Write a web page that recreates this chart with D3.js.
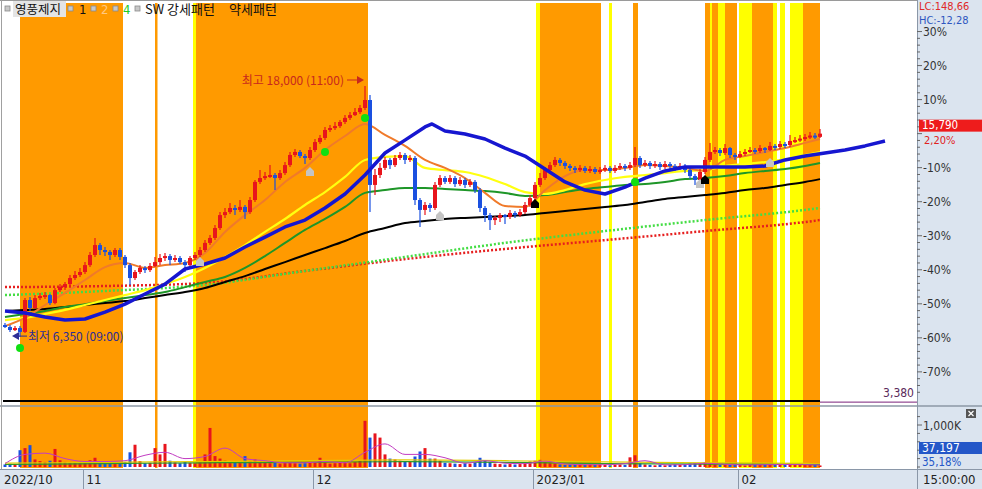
<!DOCTYPE html>
<html><head><meta charset="utf-8">
<script src="https://cdn.jsdelivr.net/npm/d3@7"></script>
<style>
html,body{margin:0;padding:0;background:#fff;overflow:hidden}
svg{display:block}
text{font-family:"Liberation Sans Narrow","DejaVu Sans Condensed","Liberation Sans",Arial,sans-serif;font-size:12px}
.kr{font-family:"Noto Sans CJK KR","Noto Sans",sans-serif}
</style></head><body>
<svg id="c" width="982" height="489"></svg>
<script>
// ---------------- DATA ----------------
const stockName = "영풍제지";
const candleOpen = [
6910,6820,6680,6770,6590,8070,7700,8160,8260,8300,
7930,8530,8670,8810,9090,9230,9370,9690,10160,10620,
10390,10300,10160,10390,10070,9690,9090,9370,9560,9460,
9650,9830,10020,10110,9930,10020,9830,9690,10020,10160,
10390,10720,10950,11410,12010,12150,12340,12250,12390,12150,
12710,13550,13730,13820,13870,13730,13960,14330,14800,14940,
14750,14660,15030,15400,15590,15960,16050,16140,16330,16520,
16650,16790,16980,17350,13410,13870,14200,14570,14330,14660,
14800,14570,14660,12710,12250,12480,12340,13410,13730,13550,
13730,13450,13640,13410,13550,13170,12340,12010,11780,11880,
12010,11920,12110,12010,12150,12480,12800,13410,13730,14100,
14330,14570,14430,14290,14200,14100,14200,14060,14150,14010,
14100,14200,14060,14200,14290,14200,14330,14660,14330,14430,
14290,14380,14240,14380,14290,14200,14290,14100,13820,13640,
14010,14570,14940,15030,14890,15120,14800,14710,14840,14940,
15030,14980,15120,15030,15220,15170,15310,15260,15450,15490,
15560,15630,15700,15640];
const candleHigh = [
7000,6910,6860,6860,8160,8210,8300,8400,8440,8350,
8630,8810,8910,9230,9420,9560,9830,10300,10950,10720,
10530,10390,10480,10480,10160,9790,9460,9690,9650,9790,
10070,10200,10250,10200,10160,10110,9930,10110,10300,10530,
10850,11090,11550,12150,12340,12570,12480,12710,12480,12850,
13640,14100,14010,14330,13960,14100,14470,14940,15080,15030,
14840,15170,15540,15730,16100,16190,16330,16420,16650,16790,
16980,17120,18000,17580,14150,14430,14710,14660,14800,14940,
14890,14800,14750,12800,12620,12570,13550,13870,13820,13870,
13820,13780,13730,13680,13640,13270,12430,12110,11970,12110,
12060,12250,12200,12290,12620,12940,13550,13960,14240,14470,
14710,14660,14520,14380,14290,14330,14290,14290,14240,14240,
14330,14290,14330,14430,14380,14470,15170,14750,14570,14520,
14520,14470,14520,14470,14380,14430,14380,14200,13920,14150,
14710,15360,15170,15120,15310,15170,14890,14980,15080,15170,
15120,15260,15170,15400,15310,15450,15400,15730,15630,15730,
15770,15870,15820,16000];
const candleLow = [
6770,6590,6630,6350,6540,7560,7650,8070,8120,7840,
7880,8440,8530,8720,9000,9140,9280,9600,10070,10160,
10110,9930,10070,9930,9560,8770,9000,9280,9320,9370,
9600,9690,9880,9690,9830,9740,9370,9650,9930,10070,
10300,10620,10850,11320,11880,12060,12010,12150,11830,12060,
12620,13450,13640,13730,13170,13640,13870,14240,14710,14660,
14380,14570,14940,15310,15490,15870,15960,16050,16240,16420,
16610,16700,16890,12150,12940,13730,14100,14150,14240,14570,
14380,14470,12480,11460,12010,12150,12250,13310,13450,13450,
13310,13360,13270,13310,13040,12150,11690,11320,11550,11690,
11600,11830,11880,11920,12060,12390,12710,13310,13640,14010,
14240,14290,14150,14060,13960,14010,13960,13960,13920,13920,
14010,13960,13960,14100,14060,14100,14240,14200,14240,14150,
14200,14100,14150,14150,14060,14100,13960,13680,13410,13550,
13920,14470,14840,14750,14800,14660,14570,14660,14750,14890,
14840,14890,14890,14980,15030,15080,15120,15170,15360,15400,
15450,15540,15540,15590];
const candleClose = [
6820,6680,6770,6590,8070,7700,8160,8260,8300,7930,
8530,8670,8810,9090,9230,9370,9690,10160,10620,10390,
10300,10160,10390,10070,9690,9090,9370,9560,9460,9650,
9830,10020,10110,9930,10020,9830,9690,10020,10160,10390,
10720,10950,11410,12010,12150,12340,12250,12390,12150,12710,
13550,13730,13820,13870,13730,13960,14330,14800,14940,14750,
14660,15030,15400,15590,15960,16050,16140,16330,16520,16650,
16790,16980,17350,13410,13870,14200,14570,14330,14660,14800,
14570,14660,12710,12250,12480,12340,13410,13730,13550,13730,
13450,13640,13410,13550,13170,12340,12010,11780,11880,12010,
11920,12110,12010,12150,12480,12800,13410,13730,14100,14330,
14570,14430,14290,14200,14100,14200,14060,14150,14010,14100,
14200,14060,14200,14290,14200,14330,14660,14330,14430,14290,
14380,14240,14380,14290,14200,14290,14100,13820,13640,14010,
14570,14940,15030,14890,15120,14800,14710,14840,14940,15030,
14980,15120,15030,15220,15170,15310,15260,15450,15490,15560,
15630,15700,15640,15790];
const volumeK = [
60,80,70,400,450,520,180,140,120,150,
430,160,120,100,110,90,130,160,220,110,
90,80,70,80,120,350,530,140,90,100,
450,300,550,150,110,90,120,100,90,110,
300,930,260,200,150,120,100,110,260,140,
180,120,100,90,120,80,100,110,90,80,
90,100,110,220,100,80,90,100,110,90,
120,150,1100,700,800,700,300,200,180,150,
130,120,250,370,450,200,200,150,100,90,
80,70,90,80,110,220,150,120,80,70,
60,70,60,70,90,130,150,170,120,90,
80,60,50,60,50,60,50,60,50,60,
50,40,50,60,50,230,280,90,60,50,
40,50,40,50,60,50,60,80,90,70,
110,90,60,50,60,50,60,50,40,50,
60,50,60,70,50,60,50,70,60,50,
60,50,70,37];

// moving averages (at these bar indexes)
const maIdx = [0,4,8,12,16,20,24,28,32,36,40,44,48,52,56,60,64,68,72,76,80,84,88,92,96,100,104,108,112,116,120,124,128,132,136,140,144,148,152,156,160,163];
const maOrange = [6860,7240,7840,8400,9000,9600,9790,9560,9690,9790,10250,11230,12010,12710,13550,14200,15030,15680,16240,15730,15220,14570,14200,13730,13040,12430,12390,13170,13820,14100,14100,14200,14330,14290,14200,14060,14570,14750,14940,15120,15360,15540];
const maYellow = [7140,7240,7420,7610,7840,8070,8300,8530,8810,9140,9560,10070,10620,11230,11830,12480,13080,13780,14570,14710,14750,14200,14100,14010,13780,13450,13080,12990,13170,13450,13640,13780,13870,13960,14060,14100,14290,14380,14470,14610,14800,14940];
const maGreen = [7280,7420,7560,7750,7880,8020,8160,8300,8440,8670,8910,9140,9560,10110,10720,11320,11830,12390,13040,13170,13270,13270,13220,13170,13130,13040,12900,12940,13080,13220,13310,13410,13450,13550,13680,13730,13820,13960,14060,14150,14290,14430];
const maBlack = [7560,7610,7650,7750,7840,7930,8020,8160,8300,8440,8630,8910,9180,9510,9830,10160,10480,10810,11180,11410,11640,11740,11830,11880,11920,11970,12010,12110,12200,12290,12390,12480,12620,12760,12850,12940,13040,13170,13270,13410,13550,13680];
const blueIdx = [0,4,8,12,16,20,24,28,32,36,40,44,48,52,56,60,64,68,72,76,80,84,85.4,88,92,96,100,104,108,112,116,120,124,128,132,136,140,144,148,152,156,160,164,168,172,176];
const maBlue = [7560,7470,7280,7140,7190,7510,7880,8350,8810,9510,9740,10020,10530,10990,11460,11780,12340,12990,13870,14890,15490,16100,16240,15910,15770,15540,15120,14750,14150,13550,13170,12990,13310,13730,14060,14240,14240,14240,14240,14290,14570,14750,14890,15030,15220,15450];
const dotIdx = [0,20,40,60,80,100,120,140,160,163];
const dotRed = [8670,8720,8860,9420,9970,10440,10850,11270,11690,11780];
const dotGreen = [8300,8490,8770,9420,10070,10720,11270,11780,12250,12340];
const volMA1 = [80,300,330,200,130,130,150,280,350,200,250,450,200,150,100,100,130,100,350,550,300,300,220,90,150,90,80,140,70,55,55,80,150,50,55,90,65,50,55,60,55,50];
const volMA2 = [60,80,100,110,130,110,80,70,60,55];
const volMA3 = [90,110,130,150,170,150,120,100,85,75];

// pattern background bands (bar index ranges) and type
const bandStart = [3.0,30.0,37.6,38.2,106.2,107.0,120.8,125.6,140,141,141.4,142.6,144,146.8,149.4,153.6,155,157,159.6];
const bandEnd   = [23.6,30.5,38.2,72.6,107.0,119.2,121.4,126.6,141,141.4,142.6,144,146.4,149.4,153.6,154.4,156,159.6,163];
const bandType  = ["o","o","y","o","y","o","y","o","o","y","o","y","o","y","o","y","y","y","o"];

// signals
const sigGreenIdx = [3,64,72,126], sigGreenPrice = [5840,14940,16520,13550];
const sigGrayIdx = [39,61,87,139,153], sigGrayPrice = [9830,14010,11970,13450,14430];
const sigBlackIdx = [106,140], sigBlackPrice = [12520,13640];

// axis / labels
const monthLabels = ["2022/10","11","12","2023/01","02"];
const monthStartIdx = [0,16,62,106,147];
const levelPrice = 3380;
const lastPrice = 15790;
const basePrice = 15790;
const pctTicks = [30,20,10,0,-10,-20,-30,-40,-50,-60,-70];
const highIdx = 72, highPrice = 18000, highTime = "11:00";
const lowIdx = 3, lowPrice = 6350, lowTime = "09:00";

// ---------------- DRAW ----------------
const svg = d3.select('#c');
const X0 = 3, XR = 917, PT = 3, PB = 405, VB = 467, AXT = 469;
const x = d3.scaleLinear().domain([0,182]).range([5,915]);
const y = d3.scaleLinear().domain([3200,21990]).range([405,0]);
const yv = d3.scaleLinear().domain([0,1000]).range([467,425]);
const step = x(1) - x(0);
const fmt = d3.format(",");

svg.append('rect').attr('width',982).attr('height',489).attr('fill','#fff');
const defs = svg.append('defs');
defs.append('clipPath').attr('id','cp').append('rect').attr('x',X0).attr('y',PT).attr('width',XR-X0).attr('height',PB-PT);
defs.append('clipPath').attr('id','cv').append('rect').attr('x',X0).attr('y',407).attr('width',XR-X0).attr('height',VB-407+1);

// bands
const bandColors = {o:'#ff9a00', y:'#ffff00'};
svg.append('g').selectAll('rect').data(bandStart).join('rect')
  .attr('x', d => x(d)).attr('y', PT)
  .attr('width', (d,i) => x(bandEnd[i]) - x(d)).attr('height', VB + 1 - PT)
  .attr('fill', (d,i) => bandColors[bandType[i]]);

const gp = svg.append('g').attr('clip-path','url(#cp)');
const lastI = candleClose.length - 1;
gp.append('line').attr('x1',X0).attr('x2',x(lastI)).attr('y1',y(levelPrice)).attr('y2',y(levelPrice))
  .attr('stroke','#000').attr('stroke-width',2);

function series(idx, vals){ return idx.map((d,i) => ({i:d, v:vals[i]})); }
const line = d3.line().x(d => x(d.i)).y(d => y(d.v)).curve(d3.curveMonotoneX);
const lineLin = d3.line().x(d => x(d.i)).y(d => y(d.v));
function draw(g, data, color, w, dash, gen){
  g.append('path').datum(data).attr('d', gen || line).attr('fill','none')
   .attr('stroke', color).attr('stroke-width', w).attr('stroke-linejoin','round')
   .attr('stroke-dasharray', dash || null);
}
draw(gp, series(dotIdx, dotRed), '#e61e1e', 2.5, '2 2');
draw(gp, series(dotIdx, dotGreen), '#44dd44', 2.5, '2 2');
draw(gp, series(maIdx, maBlack), '#000', 2);
draw(gp, series(maIdx, maGreen), '#1e9628', 2);
draw(gp, series(maIdx, maYellow), '#ffff10', 2.2);
draw(gp, series(maIdx, maOrange), '#f07a2a', 2);

// candles
const RED = '#e8141c', BLUE = '#1a50e0';
const cd = candleClose.map((c,i) => ({i, o:candleOpen[i], h:candleHigh[i], l:candleLow[i], c, up: c >= candleOpen[i]}));
gp.selectAll('.wick').data(cd).join('line').attr('class','wick')
  .attr('x1', d => x(d.i)).attr('x2', d => x(d.i))
  .attr('y1', d => y(d.h)).attr('y2', d => y(d.l))
  .attr('stroke', d => d.up ? RED : BLUE).attr('stroke-width', 1.2);
gp.selectAll('.body').data(cd).join('rect').attr('class','body')
  .attr('x', d => x(d.i) - 2).attr('width', 4)
  .attr('y', d => y(Math.max(d.o, d.c)))
  .attr('height', d => Math.max(2, Math.abs(y(d.o) - y(d.c))))
  .attr('fill', d => d.up ? RED : BLUE);

draw(gp, series(blueIdx, maBlue), '#1616d0', 3.5, null, lineLin);

// signals
const house = "M0,-5L4,-1L4,4L-4,4L-4,-1Z";
gp.selectAll('.sg').data(sigGreenIdx).join('circle').attr('class','sg')
  .attr('cx', d => x(d)).attr('cy', (d,i) => y(sigGreenPrice[i])).attr('r', 4).attr('fill','#11e011');
gp.selectAll('.sgr').data(sigGrayIdx).join('path').attr('class','sgr')
  .attr('d', house).attr('transform', (d,i) => `translate(${x(d)},${y(sigGrayPrice[i])})`).attr('fill','#c4c4c4');
gp.selectAll('.sbk').data(sigBlackIdx).join('path').attr('class','sbk')
  .attr('d', house).attr('transform', (d,i) => `translate(${x(d)},${y(sigBlackPrice[i])})`).attr('fill','#000');

// high / low annotations
const hx = x(highIdx), hy = y(highPrice) - 6;
svg.append('line').attr('x1', hx - 18).attr('x2', hx - 6).attr('y1', hy).attr('y2', hy).attr('stroke','#c8281e').attr('stroke-width',1);
svg.append('path').attr('d', `M${hx-1},${hy}L${hx-8},${hy-4}L${hx-8},${hy+4}Z`).attr('fill','#c8281e');
svg.append('text').attr('class','kr').attr('x', hx - 21).attr('y', hy + 4.5).attr('text-anchor','end')
  .attr('fill','#c8281e').style('font-size','12px').text(`최고 ${fmt(highPrice)} (${highTime})`);
const lx = x(lowIdx), ly = y(lowPrice) - 1;
svg.append('line').attr('x1', lx - 2).attr('x2', lx + 7).attr('y1', ly).attr('y2', ly).attr('stroke','#2c2c96').attr('stroke-width',1);
svg.append('path').attr('d', `M${lx-8},${ly}L${lx-1},${ly-4}L${lx-1},${ly+4}Z`).attr('fill','#2c2c96');
svg.append('text').attr('class','kr').attr('x', lx + 8).attr('y', ly + 4.5)
  .attr('fill','#2c2c96').style('font-size','12px').text(`최저 ${fmt(lowPrice)} (${lowTime})`);

// volume pane
const gv = svg.append('g').attr('clip-path','url(#cv)');
gv.selectAll('.vb').data(cd).join('rect').attr('class','vb')
  .attr('x', d => x(d.i) - 1.5).attr('width', 3)
  .attr('y', d => yv(volumeK[d.i])).attr('height', d => VB - yv(volumeK[d.i]))
  .attr('fill', d => d.up ? RED : BLUE);
const vline = d3.line().x(d => x(d.i)).y(d => yv(d.v)).curve(d3.curveMonotoneX);
function vdraw(data, color, w){ gv.append('path').datum(data).attr('d', vline).attr('fill','none').attr('stroke',color).attr('stroke-width',w); }
vdraw(series(dotIdx, volMA3), '#e0cc00', 1.2);
vdraw(series(dotIdx, volMA2), '#2a9a2a', 1.2);
vdraw(series(maIdx, volMA1), '#c23cc2', 1);

// purple continuation of level line and its label
svg.append('line').attr('x1', x(lastI)).attr('x2', XR).attr('y1', y(levelPrice)+1).attr('y2', y(levelPrice)+1).attr('stroke','#7a207a').attr('stroke-width',1);
svg.append('text').attr('x', XR - 3).attr('y', y(levelPrice) - 4).attr('text-anchor','end').attr('fill','#5a2a5a').text(fmt(levelPrice));

// separators & frame
svg.append('line').attr('x1',0).attr('x2',982).attr('y1',406).attr('y2',406).attr('stroke','#8d98a6').attr('stroke-width',1.5);
svg.append('line').attr('x1',0).attr('x2',XR).attr('y1',0.5).attr('y2',0.5).attr('stroke','#9a9a9a');
svg.append('line').attr('x1',1.5).attr('x2',1.5).attr('y1',0).attr('y2',AXT).attr('stroke','#a0a0a0');

// right panel
svg.append('rect').attr('x',XR).attr('y',0).attr('width',982-XR).attr('height',489).attr('fill','#dbe4ef');
svg.append('line').attr('x1',XR+0.5).attr('x2',XR+0.5).attr('y1',0).attr('y2',489).attr('stroke','#8a97a8');
svg.append('line').attr('x1',XR).attr('x2',982).attr('y1',406).attr('y2',406).attr('stroke','#8d98a6').attr('stroke-width',1.5);

// percent axis
const pAxis = svg.append('g');
for (let k = -76; k <= 34; k += 2) {
  const ty = y(basePrice * (1 + k/100));
  if (ty < 26 || ty > 400) continue;
  const major = k % 10 === 0;
  pAxis.append('line').attr('x1',XR).attr('x2',XR + (major ? 5 : 3)).attr('y1',ty).attr('y2',ty).attr('stroke','#666');
}
pAxis.selectAll('text').data(pctTicks.filter(d => d !== 0)).join('text')
  .attr('x', XR + 6).attr('y', d => y(basePrice * (1 + d/100)) + 4.5)
  .attr('fill','#333').text(d => d + '%');

svg.append('text').attr('x', 919).attr('y', 10).attr('fill','#e02828').style('font-size','11px').text('LC:148,66');
svg.append('text').attr('x', 919).attr('y', 23.5).attr('fill','#2e56c0').style('font-size','11px').text('HC:-12,28');
const ly2 = y(lastPrice);
svg.append('rect').attr('x', 919).attr('y', ly2 - 14).attr('width', 63).attr('height', 12).attr('fill','#ee1c1c');
svg.append('text').attr('x', 922).attr('y', ly2 - 4.5).attr('fill','#fff').style('font-size','11.5px').text(fmt(lastPrice));
svg.append('text').attr('x', 924).attr('y', ly2 + 10).attr('fill','#e02020').style('font-size','11px').text('2,20%');

// volume axis
for (let v = 0; v <= 1400; v += 200) {
  const ty = yv(v);
  if (ty < 409) continue;
  svg.append('line').attr('x1',XR).attr('x2',XR + (v === 1000 ? 5 : 3)).attr('y1',ty).attr('y2',ty).attr('stroke','#666');
}
svg.append('text').attr('x', XR + 6).attr('y', yv(1000) + 4.5).attr('fill','#333').text('1,000K');
svg.append('rect').attr('x', 919).attr('y', 442).attr('width', 63).attr('height', 12).attr('fill','#2457c8');
svg.append('text').attr('x', 922).attr('y', 452).attr('fill','#fff').text('37,197');
svg.append('text').attr('x', 922).attr('y', 466).attr('fill','#2457c8').style('font-size','11.5px').text('35,18%');
svg.append('rect').attr('x', 966).attr('y', 409).attr('width', 10).attr('height', 9).attr('fill','#555');
svg.append('path').attr('d','M968.5,411L973.5,416M973.5,411L968.5,416').attr('stroke','#fff').attr('stroke-width',1.2);

// x axis band
svg.append('rect').attr('x',0).attr('y',AXT).attr('width',XR).attr('height',489-AXT).attr('fill','#dbe4ef');
svg.append('line').attr('x1',0).attr('x2',982).attr('y1',AXT+0.5).attr('y2',AXT+0.5).attr('stroke','#8a97a8');
const xa = svg.append('g');
monthStartIdx.forEach((idx, k) => {
  const sx = k === 0 ? 1 : Math.round(x(idx) - step/2) + 0.5;
  if (k > 0) xa.append('line').attr('x1',sx).attr('x2',sx).attr('y1',AXT).attr('y2',489).attr('stroke','#8a97a8');
  xa.append('text').attr('x', sx + 3).attr('y', 484).attr('fill','#222').style('font-size','13px').text(monthLabels[k]);
});
svg.append('text').attr('x', 923).attr('y', 484).attr('fill','#222').style('font-size','13px').text('15:00:00');

// legend
const lg = svg.append('g');
function icon(px){ lg.append('rect').attr('x',px).attr('y',6).attr('width',5).attr('height',5).attr('fill','#c8c8c8').attr('stroke','#8a8a8a').attr('stroke-width',0.8); }
icon(5);
lg.append('rect').attr('x',13).attr('y',1).attr('width',53).attr('height',16).attr('fill','#e4e4e4');
lg.append('text').attr('class','kr').attr('x',15).attr('y',14).attr('fill','#111').style('font-size','12.5px').text(stockName);
icon(68); lg.append('text').attr('x',79).attr('y',14).attr('fill','#111').style('font-size','13px').text('1');
icon(91); lg.append('text').attr('x',101).attr('y',14).attr('fill','#ffc880').style('font-size','13px').text('2');
icon(113); lg.append('text').attr('x',123).attr('y',14).attr('fill','#22cc22').style('font-size','13px').text('4');
icon(135);
lg.append('text').attr('class','kr').attr('x',145).attr('y',14).attr('fill','#111').style('font-size','13px').text('SW 강세패턴');
lg.append('text').attr('class','kr').attr('x',229).attr('y',14).attr('fill','#111').style('font-size','13px').text('약세패턴');
</script>
</body></html>
